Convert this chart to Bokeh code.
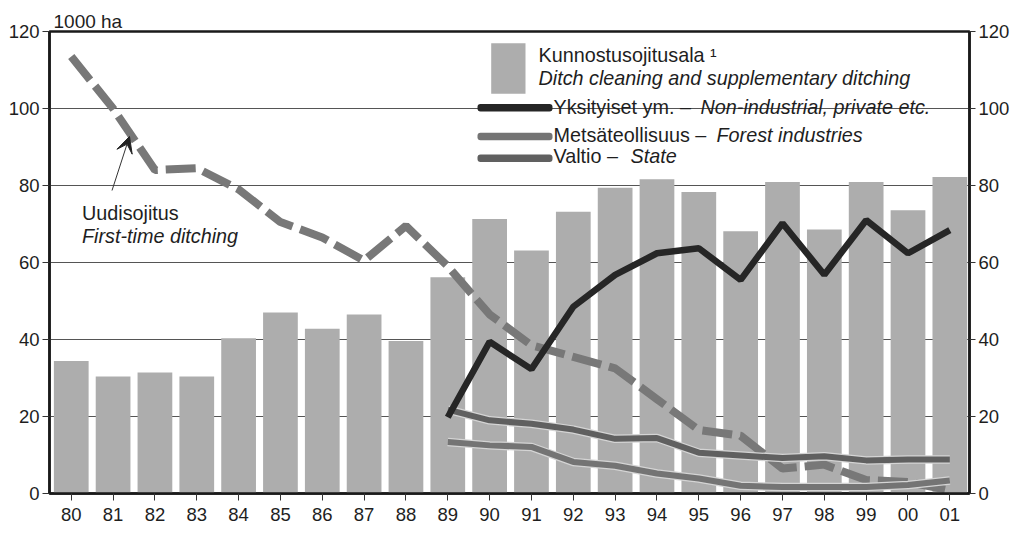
from bokeh.plotting import figure
from bokeh.models import (Range1d, LinearAxis, FixedTicker, Label, BoxAnnotation,
                          Arrow, VeeHead, ColumnDataSource)
from bokeh.embed import file_html
from bokeh.resources import INLINE

# ---------------- data ----------------
years = ["80", "81", "82", "83", "84", "85", "86", "87", "88", "89", "90",
         "91", "92", "93", "94", "95", "96", "97", "98", "99", "00", "01"]
# Kunnostusojitusala - Ditch cleaning and supplementary ditching (1000 ha)
kunnostus = [34.4, 30.4, 31.4, 30.4, 40.3, 47.0, 42.8, 46.5, 39.6, 56.2, 71.3,
             63.1, 73.2, 79.4, 81.6, 78.3, 68.1, 80.9, 68.6, 80.9, 73.6, 82.2]
# Uudisojitus - First-time ditching
uudis = [113.5, 100.0, 84.0, 84.5, 79.0, 70.5, 66.5, 60.5, 69.5, 59.0, 46.5,
         38.5, 35.5, 32.5, 24.5, 16.5, 15.0, 6.5, 7.5, 3.5, 3.0, 0.8]
# ownership series, 1989-2001
own_years = years[9:]
yksityiset = [19.8, 39.4, 32.3, 48.5, 56.8, 62.4, 63.7, 55.5, 70.2, 56.8, 71.0, 62.4, 68.4]
valtio = [21.8, 19.0, 18.1, 16.6, 14.2, 14.4, 10.6, 9.9, 9.2, 9.7, 8.6, 8.8, 8.8]
metsateollisuus = [13.4, 12.5, 12.1, 8.2, 7.2, 5.2, 3.9, 2.0, 1.7, 1.7, 1.7, 2.2, 3.4]
y_ticks = [0, 20, 40, 60, 80, 100, 120]
unit_label = "1000 ha"

# ---------------- styles ----------------
FONT = "Liberation Sans"
TXT = "#1e1e1e"
BAR = "#adadad"
DASH = "#787878"
BLACK = "#262626"
C_METSA = "#747474"
C_VALTIO = "#606060"
HALO = "#d4d4d4"
LEG_FS = "19.8px"

xi = list(range(len(years)))
own_x = [years.index(y) for y in own_years]

bars = ColumnDataSource(dict(x=xi, top=kunnostus))
src_uudis = ColumnDataSource(dict(x=xi, y=uudis))
src_yks = ColumnDataSource(dict(x=own_x, y=yksityiset))
src_val = ColumnDataSource(dict(x=own_x, y=valtio))
src_met = ColumnDataSource(dict(x=own_x, y=metsateollisuus))

FW, FH = 920, 462
FL, FT = 49, 31
XR = (-0.52, 21.47)
p = figure(frame_width=FW, frame_height=FH, x_range=Range1d(*XR), y_range=Range1d(0, 120),
           output_backend="svg", toolbar_location=None,
           min_border_left=FL, min_border_right=5, min_border_top=FT, min_border_bottom=0,
           background_fill_color="white", border_fill_color="white")

p.title.text = unit_label
p.title.align = "left"
p.title.offset = 4
p.title.standoff = 0
p.title.text_font = FONT
p.title.text_font_size = "19px"
p.title.text_font_style = "normal"
p.title.text_color = TXT

# frame-pixel helpers for annotation placement (image px -> data)
def X(px):
    return XR[0] + (px - FL) / FW * (XR[1] - XR[0])
def Y(py):
    return (FT + FH - py) / FH * 120

p.outline_line_color = "#1a1a1a"
p.outline_line_width = 2.5
p.xgrid.visible = False
p.ygrid.ticker = FixedTicker(ticks=y_ticks)
p.ygrid.grid_line_color = "#555555"
p.ygrid.grid_line_width = 1

def style_axis(ax, tick_out, standoff=3):
    ax.axis_line_width = 2.5
    ax.axis_line_color = "#1a1a1a"
    ax.major_tick_out = tick_out
    ax.major_tick_in = 0
    ax.major_tick_line_color = "#333333"
    ax.minor_tick_line_color = None
    ax.major_label_standoff = standoff
    ax.major_label_text_font = FONT
    ax.major_label_text_font_size = "18.5px"
    ax.major_label_text_color = TXT

xa = p.xaxis[0]
xa.ticker = FixedTicker(ticks=xi)
xa.major_label_overrides = {i: years[i] for i in xi}
style_axis(xa, 7, standoff=7)

ya = p.yaxis[0]
ya.ticker = FixedTicker(ticks=y_ticks)
style_axis(ya, 7)

ra = LinearAxis(ticker=FixedTicker(ticks=y_ticks))
style_axis(ra, 6)
p.add_layout(ra, "right")

# ---------------- marks ----------------
p.vbar(x="x", top="top", width=0.83, source=bars, fill_color=BAR, line_color=None)

p.line("x", "y", source=src_uudis, line_color=DASH, line_width=8, line_dash="30 8")

for src, col in ((src_met, C_METSA), (src_val, C_VALTIO)):
    p.line("x", "y", source=src, line_color=HALO, line_width=8.5)
    p.line("x", "y", source=src, line_color=col, line_width=6)

p.line("x", "y", source=src_yks, line_color=BLACK, line_width=6.5)

# ---------------- texts ----------------
def lab(px, py, text, italic=False, size=LEG_FS):
    p.add_layout(Label(x=X(px), y=Y(py), text=text, text_font=FONT, text_font_size=size,
                       text_color=TXT, text_baseline="middle", text_align="left",
                       text_font_style="italic" if italic else "normal"))

lab(81.5, 212, "Uudisojitus")
lab(81.5, 235, "First-time ditching", italic=True)

p.add_layout(Arrow(end=VeeHead(size=16, fill_color="#222222", line_color="#222222", line_width=1),
                   x_start=X(111.5), y_start=Y(190), x_end=X(129), y_end=Y(136),
                   line_color="#333333", line_width=1))

# legend
p.add_layout(BoxAnnotation(left=X(490.7), right=X(525), top=Y(42.7), bottom=Y(93.3),
                           fill_color=BAR, fill_alpha=1, line_color=None))
lab(538, 54.5, "Kunnostusojitusala \u00b9")
lab(538, 77, "Ditch cleaning and supplementary ditching", italic=True)

rows = [(107.3, 106.7, BLACK, "Yksityiset ym. \u2013 ", 700, "Non-industrial, private etc."),
        (136.0, 134.5, C_METSA, "Mets\u00e4teollisuus \u2013 ", 716, "Forest industries"),
        (157.7, 155.8, C_VALTIO, "Valtio \u2013 ", 630, "State")]
for sy, ty, col, reg, ix, ital in rows:
    p.add_layout(BoxAnnotation(left=X(477), right=X(552), top=Y(sy - 3.7), bottom=Y(sy + 3.7),
                               fill_color=col, fill_alpha=1, line_color=None, border_radius=3))
    lab(553, ty, reg)
    lab(ix, ty, ital, italic=True)

open("out.html", "w").write(file_html(p, INLINE))
